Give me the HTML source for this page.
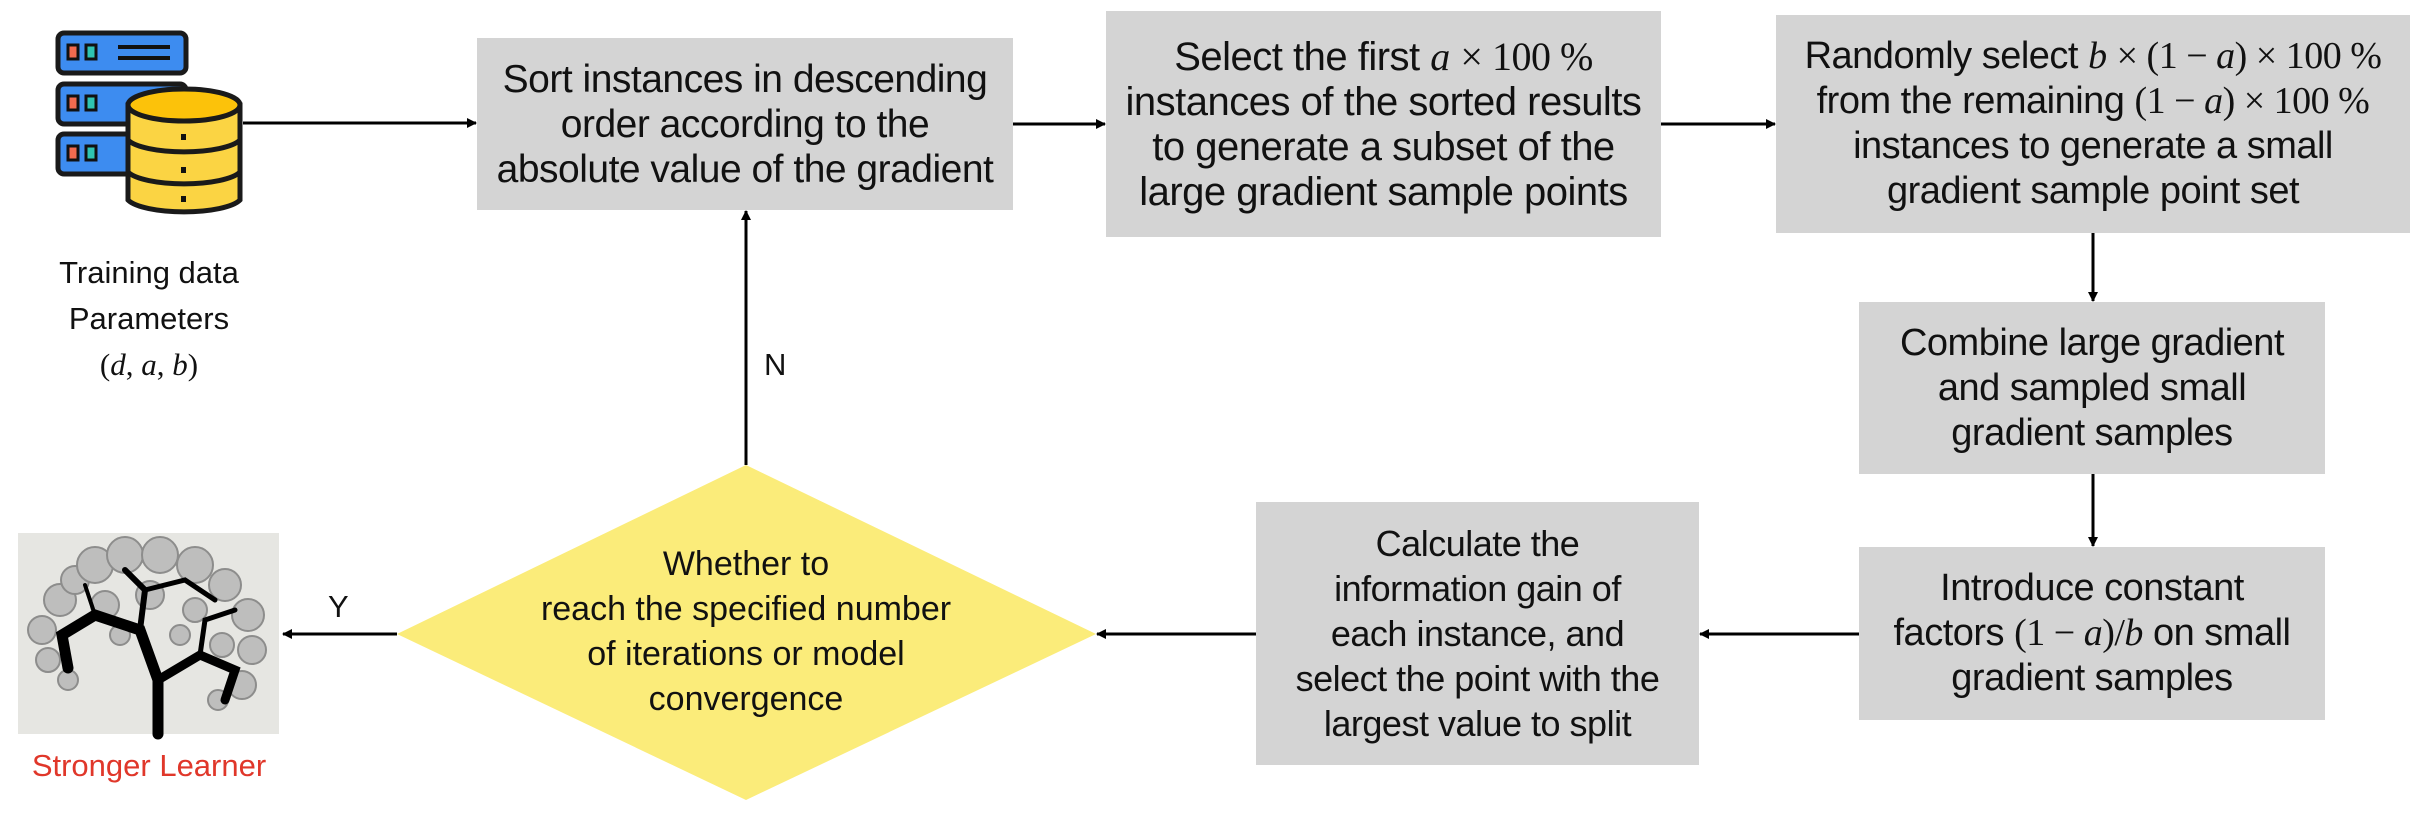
<!DOCTYPE html>
<html><head><meta charset="utf-8"><style>
body{margin:0;width:2420px;height:820px;background:#fff;position:relative;overflow:hidden;font-family:"Liberation Sans",Arial,sans-serif;}
.box{position:absolute;background:#d4d4d4;display:flex;align-items:center;justify-content:center;text-align:center;font-size:38px;line-height:45px;color:#111;letter-spacing:-0.5px;}
.m{font-family:"Liberation Serif",serif;}
.i{font-family:"Liberation Serif",serif;font-style:italic;}
.lbl{position:absolute;font-size:31px;color:#111;text-align:center;}
svg{position:absolute;left:0;top:0;}
</style></head><body>
<svg width="2420" height="820">
<defs><marker id="ah" markerWidth="10" markerHeight="10" refX="9" refY="5" orient="auto" markerUnits="userSpaceOnUse"><path d="M0,0 L10,5 L0,10 z" fill="#000"/></marker></defs>
<g stroke="#000" stroke-width="3" fill="none" marker-end="url(#ah)">
<line x1="243" y1="123" x2="476" y2="123"/>
<line x1="1013" y1="124" x2="1105" y2="124"/>
<line x1="1661" y1="124" x2="1775" y2="124"/>
<line x1="2093" y1="233" x2="2093" y2="301"/>
<line x1="2093" y1="474" x2="2093" y2="546"/>
<line x1="1859" y1="634" x2="1700" y2="634"/>
<line x1="1256" y1="634" x2="1097" y2="634"/>
<line x1="397" y1="634" x2="283" y2="634"/>
<line x1="746" y1="465" x2="746" y2="211"/>
</g>
<polygon points="746,465 1096,634 746,800 397,634" fill="#fbec7a"/>
<g>
<rect x="58" y="33" width="128" height="40" rx="6" fill="#3d8cf0" stroke="#1a1a1a" stroke-width="5"/>
<rect x="58" y="84" width="128" height="40" rx="6" fill="#3d8cf0" stroke="#1a1a1a" stroke-width="5"/>
<rect x="58" y="134" width="128" height="40" rx="6" fill="#3d8cf0" stroke="#1a1a1a" stroke-width="5"/>
<rect x="68" y="45" width="10" height="14" fill="#f26b4f" stroke="#111" stroke-width="3"/>
<rect x="86" y="45" width="10" height="14" fill="#2fc4b2" stroke="#111" stroke-width="3"/>
<rect x="68" y="96" width="10" height="14" fill="#f26b4f" stroke="#111" stroke-width="3"/>
<rect x="86" y="96" width="10" height="14" fill="#2fc4b2" stroke="#111" stroke-width="3"/>
<rect x="68" y="146" width="10" height="14" fill="#f26b4f" stroke="#111" stroke-width="3"/>
<rect x="86" y="146" width="10" height="14" fill="#2fc4b2" stroke="#111" stroke-width="3"/>
<line x1="118" y1="47" x2="170" y2="47" stroke="#111" stroke-width="4"/>
<line x1="118" y1="58" x2="170" y2="58" stroke="#111" stroke-width="4"/>
<path d="M128,105 L128,200 A58,16 0 0 0 240,200 L240,105 Z" fill="#fbd443" stroke="#1a1a1a" stroke-width="5"/>
<ellipse cx="184" cy="105" rx="56" ry="16" fill="#fcc20a" stroke="#1a1a1a" stroke-width="5"/>
<path d="M128,140 A58,16 0 0 0 240,140 M128,172 A58,16 0 0 0 240,172" fill="none" stroke="#1a1a1a" stroke-width="5"/>
<rect x="181" y="134" width="5" height="6" fill="#111"/><rect x="181" y="167" width="5" height="6" fill="#111"/><rect x="181" y="196" width="5" height="6" fill="#111"/>
</g>
<g>
<rect x="18" y="533" width="261" height="201" fill="#e6e6e2"/>
<g fill="#b5b5b5" stroke="#777" stroke-width="2" opacity="0.8">
<circle cx="60" cy="600" r="16"/><circle cx="42" cy="630" r="14"/><circle cx="48" cy="660" r="12"/><circle cx="68" cy="680" r="10"/><circle cx="75" cy="580" r="14"/>
<circle cx="95" cy="565" r="18"/><circle cx="125" cy="555" r="18"/><circle cx="160" cy="555" r="18"/><circle cx="195" cy="565" r="18"/>
<circle cx="225" cy="585" r="16"/><circle cx="248" cy="615" r="16"/><circle cx="252" cy="650" r="14"/><circle cx="242" cy="685" r="14"/><circle cx="218" cy="700" r="10"/>
<circle cx="105" cy="605" r="14"/><circle cx="150" cy="595" r="14"/><circle cx="195" cy="610" r="12"/><circle cx="222" cy="645" r="12"/><circle cx="120" cy="635" r="10"/><circle cx="180" cy="635" r="10"/>
</g>
<g stroke="#000" stroke-linecap="round" fill="none">
<path d="M158,734 L158,680 L140,630 L95,615 L62,635 L68,668" stroke-width="11"/>
<path d="M158,680 L200,655 L235,670 L225,700" stroke-width="9"/>
<path d="M140,630 L145,590 L125,570" stroke-width="6"/>
<path d="M145,590 L185,580 L215,600" stroke-width="5"/>
<path d="M200,655 L205,620 L235,610" stroke-width="5"/>
<path d="M95,615 L85,585" stroke-width="4"/>
</g>
</g>
</svg>

<div class="box" style="left:477px;top:38px;width:536px;height:172px;font-size:39px;">Sort instances in descending<br>order according to the<br>absolute value of the gradient</div>
<div class="box" style="left:1106px;top:11px;width:555px;height:226px;font-size:40px;"><div>Select the first <span class="i">a</span> <span class="m">× 100 %</span><br>instances of the sorted results<br>to generate a subset of the<br>large gradient sample points</div></div>
<div class="box" style="left:1776px;top:15px;width:634px;height:218px;"><div>Randomly select <span class="i">b</span> <span class="m">× (1 − <i>a</i>) × 100 %</span><br>from the remaining <span class="m">(1 − <i>a</i>) × 100 %</span><br>instances to generate a small<br>gradient sample point set</div></div>
<div class="box" style="left:1859px;top:302px;width:466px;height:172px;">Combine large gradient<br>and sampled small<br>gradient samples</div>
<div class="box" style="left:1859px;top:547px;width:466px;height:173px;"><div>Introduce constant<br>factors <span class="m">(1 − <i>a</i>)/<i>b</i></span> on small<br>gradient samples</div></div>
<div class="box" style="left:1256px;top:502px;width:443px;height:263px;font-size:36px;">Calculate the<br>information gain of<br>each instance, and<br>select the point with the<br>largest value to split</div>
<div class="lbl" style="left:526px;top:542px;width:440px;font-size:34px;line-height:45px;">Whether to<br>reach the specified number<br>of iterations or model<br>convergence</div>

<div class="lbl" style="left:49px;top:250px;width:200px;line-height:46px;">Training data<br>Parameters<br><span class="m">(<i>d</i>, <i>a</i>, <i>b</i>)</span></div>
<div class="lbl" style="left:764px;top:347px;">N</div>
<div class="lbl" style="left:328px;top:589px;">Y</div>
<div class="lbl" style="left:19px;top:748px;width:260px;color:#e0372a;">Stronger Learner</div>
</body></html>
